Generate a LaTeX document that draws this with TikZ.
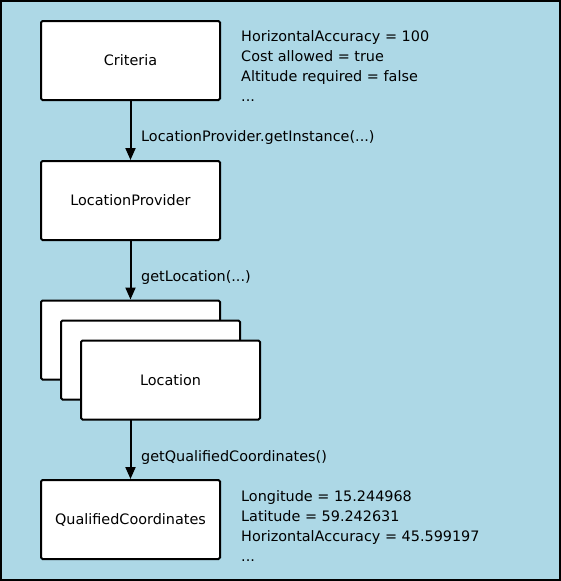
\documentclass[tikz,border=0pt]{standalone}
\usepackage{fontspec}
\setmainfont{DejaVu Sans}
\usetikzlibrary{arrows.meta}
\definecolor{bgblue}{HTML}{ADD8E6}
\tikzset{
  box/.style={draw=black, fill=white, line width=2pt, rounded corners=1.5pt, minimum width=179pt, minimum height=79pt, inner sep=0pt, font=\fontsize{14.4}{16}\selectfont},
  conn/.style={draw=black, line width=2pt, -{Triangle[length=12pt,width=10pt]}},
  lbl/.style={anchor=base west, inner sep=0pt, font=\fontsize{14.4}{16}\selectfont},
}
\begin{document}
\begin{tikzpicture}[x=1pt,y=-1pt]
\useasboundingbox (0,0) rectangle (561,581);
\draw[fill=bgblue, line width=2pt] (1,1) rectangle (560,580);
\node[box] (crit) at (130.5,60.5) {Criteria};
\node[box] (prov) at (130.5,200.5) {LocationProvider};
\node[box] (loc1) at (130.5,340) {};
\node[box] (loc2) at (150.5,360) {};
\node[box] (loc3) at (170.5,380) {Location};
\node[box] (qc) at (130.5,519.5) {QualifiedCoordinates};
\coordinate (l3b) at (130.5,420);
\draw[conn] (crit.south) -- (prov.north);
\draw[conn] (prov.south) -- (loc1.north);
\draw[conn] (l3b) -- (qc.north);
\node[lbl] (t1) at (141,141) {LocationProvider.getInstance(...)};
\node[lbl] (t2) at (141,281) {getLocation(...)};
\node[lbl] (t3) at (141,461) {getQualifiedCoordinates()};
\node[lbl] (c1) at (241,41.5) {HorizontalAccuracy = 100};
\node[lbl] (c2) at (241,61.5) {Cost allowed = true};
\node[lbl] (c3) at (241,81) {Altitude required = false};
\node[lbl] (c4) at (241,101) {...};
\node[lbl] (q1) at (241,501) {Longitude = 15.244968};
\node[lbl] (q2) at (241,521) {Latitude = 59.242631};
\node[lbl] (q3) at (241,541) {HorizontalAccuracy = 45.599197};
\node[lbl] (q4) at (241,561) {...};
\end{tikzpicture}
\end{document}
